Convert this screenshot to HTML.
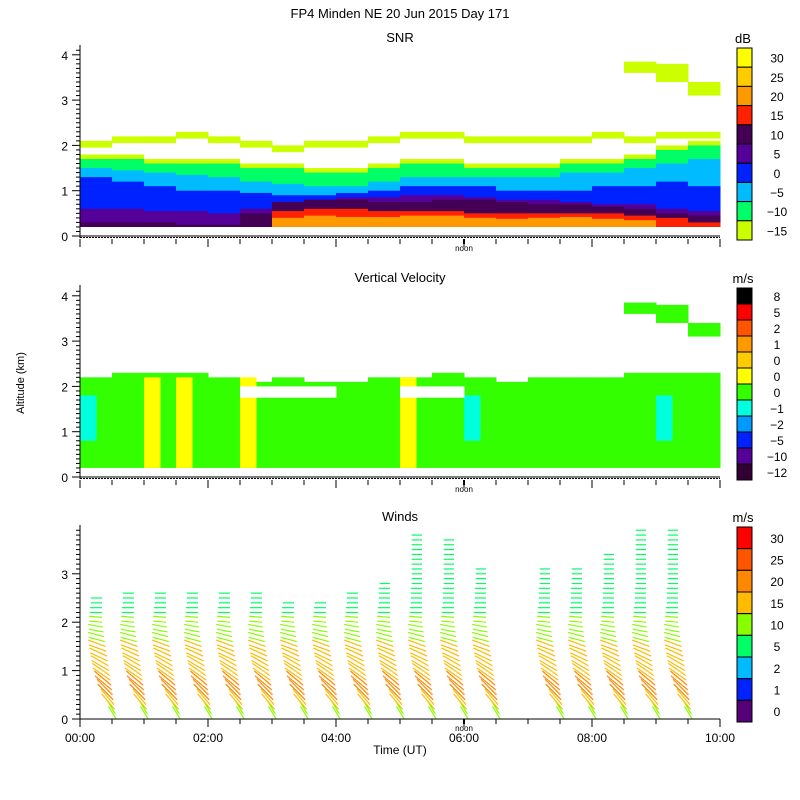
<!DOCTYPE html>
<html><head><meta charset="utf-8"><style>
body{margin:0;background:#fff}svg{display:block;font-family:"Liberation Sans",sans-serif}
</style></head><body>
<svg id="c" width="800" height="800" viewBox="0 0 800 800">
<text x="400" y="18" font-size="13" text-anchor="middle">FP4 Minden NE  20 Jun 2015 Day 171</text>
<text x="400" y="42" font-size="13" text-anchor="middle">SNR</text>
<text x="400" y="282" font-size="13" text-anchor="middle">Vertical Velocity</text>
<text x="400" y="521" font-size="13" text-anchor="middle">Winds</text>
<text x="24" y="383" font-size="11" text-anchor="middle" transform="rotate(-90 24 383)">Altitude (km)</text>
<text x="400" y="754" font-size="12" text-anchor="middle">Time (UT)</text>
<g id="g"></g>
</svg>
<script>
// ---- data ----
const snrTimes=[0,0.5,1,1.5,2,2.5,3,3.5,4,4.5,5,5.5,6,6.5,7,7.5,8,8.5,9,9.5];
const snrLime=[2.1,2.2,2.2,2.3,2.2,2.1,2.0,2.1,2.1,2.2,2.3,2.3,2.2,2.2,2.2,2.2,2.3,2.2,2.3,2.3];
const snrGreen=[1.7,1.7,1.6,1.6,1.6,1.5,1.5,1.4,1.4,1.5,1.6,1.6,1.5,1.5,1.5,1.6,1.6,1.7,1.9,2.0];
const snrCyan=[1.5,1.45,1.4,1.35,1.3,1.2,1.15,1.1,1.1,1.2,1.3,1.3,1.3,1.3,1.3,1.4,1.4,1.5,1.6,1.7];
const snrBlue=[1.3,1.2,1.1,1.0,1.0,0.95,0.9,0.9,0.95,1.0,1.1,1.1,1.1,1.0,1.0,1.0,1.1,1.1,1.2,1.1];
const snrPurple=[0.6,0.6,0.55,0.55,0.5,0.6,0.7,0.8,0.85,0.85,0.9,0.9,0.85,0.8,0.8,0.75,0.7,0.7,0.6,0.55];
const snrDark=[0.3,0.3,0.3,0.25,0.25,0.5,0.75,0.8,0.8,0.75,0.75,0.8,0.8,0.75,0.7,0.7,0.65,0.6,0.5,0.45];
const snrRed=[0,0,0,0,0,0.2,0.55,0.6,0.6,0.55,0.55,0.55,0.5,0.5,0.5,0.5,0.5,0.45,0.4,0.3];
const snrOrange=[0,0,0,0,0,0,0.4,0.45,0.42,0.42,0.45,0.45,0.4,0.38,0.4,0.42,0.38,0.35,0,0];
const snrUpperTimes=[8.5,9,9.5];
const snrUpperLo=[3.6,3.4,3.1];
const snrUpperHi=[3.85,3.8,3.4];
const velTimes=snrTimes;
const velTop=[2.2,2.3,2.3,2.3,2.2,2.1,2.2,2.1,2.1,2.2,2.2,2.3,2.2,2.1,2.2,2.2,2.2,2.3,2.3,2.3];
const velGapTimes=[2.5,3.0,3.5,5.0,5.5];
const velYellowTimes=[1.0,1.5,2.5,5.0];
const velCyanTimes=[0,6.0,9.0];
const windTimes=[0.25,0.75,1.25,1.75,2.25,2.75,3.25,3.75,4.25,4.75,5.25,5.75,6.25,7.25,7.75,8.25,8.75,9.25];
const windTops=[2.5,2.6,2.6,2.6,2.6,2.6,2.4,2.4,2.6,2.8,3.8,3.7,3.1,3.1,3.1,3.4,3.9,3.9];
const windAlt=[0,0.2,0.4,0.6,0.8,1.0,1.2,1.4,1.6,1.8,2.0,2.2,2.4,2.6,2.8,3.0,3.2,3.4,3.6,3.8];
const windSpeed=[12,18,20,20,19,18,17,16,14,12,10,9,8,8,7,7,7,7,7,7];
const windDir=[60,50,45,40,35,30,25,20,15,10,5,0,0,0,0,0,0,0,0,0];
const snrLabels=["30","25","20","15","10","5","0","−5","−10","−15"];
const snrColors=["#ffff00","#ffcc00","#ff9900","#ff2200","#440055","#550099","#0022ff","#00bbff","#00ff66","#ccff00"];
const velLabels=["8","5","2","1","0","0","0","−1","−2","−5","−10","−12"];
const velColors=["#000000","#ff0000","#ff5500","#ff9900","#ffcc00","#ffff00","#33ff00","#00ffdd","#0099ff","#0022ff","#550099","#330033"];
const windLabels=["30","25","20","15","10","5","2","1","0"];
const windColors=["#ff0000","#ff5500","#ff8800","#ffbb00","#88ff00","#00ff66","#00bbff","#0022ff","#550077"];
// ---- helpers ----
const NS="http://www.w3.org/2000/svg",G=document.getElementById('g');
function el(t,a){const e=document.createElementNS(NS,t);for(const k in a)e.setAttribute(k,a[k]);G.appendChild(e);return e;}
const x=t=>80+t*64;
const panels=[{y0:236,s:45.3,top:45},{y0:477,s:45.3,top:285},{y0:719,s:48.4,top:525}];
function rect(p,t,w,lo,hi,c,name){if(hi<=lo)return;const P=panels[p];const r=el('rect',{x:x(t),y:P.y0-hi*P.s,width:w*64+0.5,height:(hi-lo)*P.s,fill:c});

}
// SNR
const bands=[[snrLime,"#ccff00"],[snrGreen,"#00ff66"],[snrCyan,"#00bbff"],[snrBlue,"#0022ff"],[snrPurple,"#550099"],[snrDark,"#440055"],[snrRed,"#ff2200"],[snrOrange,"#ff9900"]];
snrTimes.forEach((t,i)=>{bands.forEach(([arr,c])=>{if(arr[i]>0)rect(0,t,0.5,0.2,arr[i],c,'snr-cell');});
 rect(0,t,0.5,snrGreen[i]+0.1,snrLime[i]-0.15,"#ffffff",'snr-gap');});
snrUpperTimes.forEach((t,i)=>rect(0,t,0.5,snrUpperLo[i],snrUpperHi[i],"#ccff00",'snr-upper-cell'));
// Velocity
velTimes.forEach((t,i)=>rect(1,t,0.5,0.2,velTop[i],"#33ff00",'velocity-cell'));
velYellowTimes.forEach(t=>rect(1,t,0.25,0.2,2.2,"#ffff00",'velocity-updraft'));
velCyanTimes.forEach(t=>rect(1,t,0.25,0.8,1.8,"#00ffdd",'velocity-cyan'));
velGapTimes.forEach(t=>rect(1,t,0.5,1.75,2.0,"#ffffff",'velocity-gap'));
snrUpperTimes.forEach((t,i)=>rect(1,t,0.5,snrUpperLo[i],snrUpperHi[i],"#33ff00",'velocity-upper-cell'));
// Winds
function wcol(s){return s>=20?"#ff8800":s>=15?"#ffbb00":s>=10?"#88ff00":"#00ff66";}
windTimes.forEach((t,i)=>{windAlt.forEach((a,j)=>{if(a>windTops[i])return;for(let k=0;k<2;k++){const aa=a+k*0.1;if(aa>windTops[i])continue;
 const P=panels[2];const bx=x(t)+14*(1-Math.min(aa,2)/2)+6;const by=P.y0-aa*P.s;const ang=windDir[j]*Math.PI/180;const L=4+windSpeed[j]*0.9;
 const l=el('line',{x1:bx-L*Math.cos(ang),y1:by-L*Math.sin(ang),x2:bx,y2:by,stroke:wcol(windSpeed[j]),'stroke-width':1.2});
 
 }});});
// Axes
panels.forEach((P,p)=>{
 const ax=el('g',{});  
 el('line',{x1:80,y1:P.top,x2:80,y2:P.y0+2,stroke:'#000'});
 el('line',{x1:74,y1:P.y0,x2:720,y2:P.y0,stroke:'#000'});
 if(p<2)el('line',{x1:80,y1:P.y0+1.5,x2:720,y2:P.y0+1.5,stroke:'#000','stroke-dasharray':'2,1'});
 const maxkm=p==2?3.9:4.1;
 for(let v=0;v<=maxkm+1e-6;v+=0.1){const yy=P.y0-v*P.s;const maj=Math.abs(v-Math.round(v))<1e-6;
  el('line',{x1:maj?72:76,y1:yy,x2:80,y2:yy,stroke:'#000'});
  if(maj){const tx=el('text',{x:68,y:yy+5,'font-size':12,'text-anchor':'end'});tx.textContent=Math.round(v);
   }}
 const by=p<2?P.y0+3:P.y0;
 for(let h=0;h<=10;h+=0.5){const maj=h%2==0;el('line',{x1:x(h),y1:by,x2:x(h),y2:by+(maj?8:5),stroke:'#000'});}
 el('rect',{x:x(6)-1,y:by,width:2,height:5,fill:'#000'});
 const n=el('text',{x:x(6),y:by+12,'font-size':8,'text-anchor':'middle'});n.textContent='noon';
  
});
for(let h=0;h<=10;h+=2){const tx=el('text',{x:x(h),y:742,'font-size':12,'text-anchor':'middle'});tx.textContent=(h<10?'0':'')+h+':00';
  }
// Colorbars
function bar(y0,y1,cols,labs,unit,name){const h=(y1-y0)/cols.length;
 const u=el('text',{x:743,y:y0-5,'font-size':13,'text-anchor':'middle'});u.textContent=unit;
  
 cols.forEach((c,i)=>{const r=el('rect',{x:737,y:y0+i*h,width:15,height:h,fill:c,stroke:'#000','stroke-width':1});
   
  const t=el('text',{x:777,y:y0+i*h+h/2+5,'font-size':12,'text-anchor':'middle'});t.textContent=labs[i];
   });}
bar(48,240,snrColors,snrLabels,'dB','snr-colorbar');
bar(288,480,velColors,velLabels,'m/s','velocity-colorbar');
bar(527,722,windColors,windLabels,'m/s','winds-colorbar');
</script>
</body></html>
